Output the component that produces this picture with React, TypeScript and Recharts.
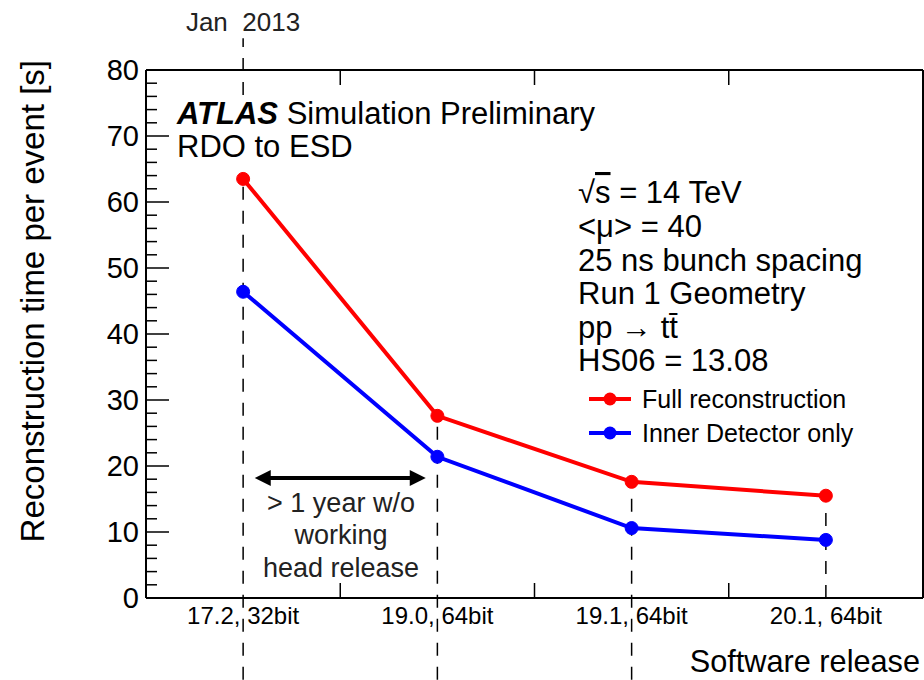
import React from 'react';
import { LineChart, Line, XAxis, YAxis, ReferenceLine } from 'recharts';

const W = 924;
const H = 680;
const FONT = '"Liberation Sans", Arial, Helvetica, sans-serif';

const categories = ['17.2, 32bit', '19.0, 64bit', '19.1, 64bit', '20.1, 64bit'];
const fullReco = [63.5, 27.6, 17.6, 15.5];
const innerDet = [46.4, 21.4, 10.6, 8.8];

const yTicks = [0, 2, 4, 6, 8, 10, 12, 14, 16, 18, 20, 22, 24, 26, 28, 30, 32, 34, 36, 38, 40, 42, 44, 46, 48, 50, 52, 54, 56, 58, 60, 62, 64, 66, 68, 70, 72, 74, 76, 78, 80];
const xBottomTicks = [0.5, 1, 1.5, 2, 2.5, 3, 3.5];
const xTopTicks = [1, 2, 3];

// vertical dashed guide segments: category index, from / to (y units)
const guideCat = [0, 0, 1, 2, 3];
const guideFrom = [76.2, -12.4, -12.4, -12.4, 0];
const guideTo = [84.8, 63.5, 27.6, 17.6, 15.5];

// "> 1 year" arrow span (category units) and height
const arrowX = [0.56, 1.44];
const arrowY = 18.2;

const data = categories.map((c, i) => ({ x: i + 0.5, name: c, full: fullReco[i], inner: innerDet[i] }));

const YTickLeft = (props: any) => {
  const { x, y, payload } = props;
  const v = payload.value;
  const major = v % 10 === 0;
  return (
    <g>
      <line x1={x} y1={y} x2={x + (major ? 23 : 11)} y2={y} stroke="#000" strokeWidth={1.5} />
      {major && (
        <text x={x - 7} y={y} dy="0.36em" textAnchor="end" fontSize={29} fontFamily={FONT} fill="#000">
          {v}
        </text>
      )}
    </g>
  );
};

const YTickRight = (props: any) => {
  const { x, y, payload } = props;
  const v = payload.value;
  const major = v % 10 === 0;
  return <line x1={x} y1={y} x2={x - (major ? 23 : 11)} y2={y} stroke="#000" strokeWidth={1.5} />;
};

const XTickBottom = (props: any) => {
  const { x, y, payload } = props;
  const v = payload.value;
  if (Number.isInteger(v)) {
    return <line x1={x} y1={y} x2={x} y2={y - 15} stroke="#000" strokeWidth={1.5} />;
  }
  return (
    <text x={x} y={y + 26} textAnchor="middle" fontSize={24} fontFamily={FONT} fill="#000">
      {categories[Math.floor(v)]}
    </text>
  );
};

const XTickTop = (props: any) => {
  const { x, y } = props;
  return <line x1={x} y1={y} x2={x} y2={y + 15} stroke="#000" strokeWidth={1.5} />;
};

const ArrowShape = (props: any) => {
  const { x1, y1, x2, y2 } = props;
  const head = 16;
  const hw = 8;
  return (
    <g>
      <line x1={x1 + head - 2} y1={y1} x2={x2 - head + 2} y2={y2} stroke="#000" strokeWidth={4} />
      <polygon points={`${x1},${y1} ${x1 + head},${y1 - hw} ${x1 + head},${y1 + hw}`} fill="#000" />
      <polygon points={`${x2},${y2} ${x2 - head},${y2 - hw} ${x2 - head},${y2 + hw}`} fill="#000" />
    </g>
  );
};

const infoLines = ['<μ> = 40', '25 ns bunch spacing', 'Run 1 Geometry'];

export default function App() {
  return (
    <div style={{ position: 'absolute', left: 0, top: 0, width: W, height: H, background: '#fff' }}>
      <LineChart width={W} height={H} data={data} margin={{ top: 69, right: 0, bottom: 81, left: 145 }}>
        <XAxis
          xAxisId={0}
          type="number"
          dataKey="x"
          domain={[0, 4]}
          ticks={xBottomTicks}
          interval={0}
          height={1}
          tickSize={0}
          tickMargin={0}
          tickLine={false}
          axisLine={{ stroke: '#000', strokeWidth: 2 }}
          tick={<XTickBottom />}
        />
        <XAxis
          xAxisId="top"
          orientation="top"
          type="number"
          dataKey="x"
          domain={[0, 4]}
          ticks={xTopTicks}
          interval={0}
          height={1}
          tickSize={0}
          tickMargin={0}
          tickLine={false}
          axisLine={{ stroke: '#000', strokeWidth: 2 }}
          tick={<XTickTop />}
        />
        <YAxis
          yAxisId={0}
          type="number"
          domain={[0, 80]}
          ticks={yTicks}
          interval={0}
          width={1}
          tickSize={0}
          tickMargin={0}
          tickLine={false}
          axisLine={{ stroke: '#000', strokeWidth: 2 }}
          tick={<YTickLeft />}
        />
        <YAxis
          yAxisId="right"
          orientation="right"
          type="number"
          domain={[0, 80]}
          ticks={yTicks}
          interval={0}
          width={1}
          tickSize={0}
          tickMargin={0}
          tickLine={false}
          axisLine={{ stroke: '#000', strokeWidth: 2 }}
          tick={<YTickRight />}
        />
        {guideCat.map((c, i) => (
          <ReferenceLine
            key={'g' + i}
            xAxisId={0}
            yAxisId={0}
            ifOverflow="visible"
            segment={[
              { x: data[c].x, y: guideFrom[i] },
              { x: data[c].x, y: guideTo[i] },
            ]}
            stroke="#000"
            strokeWidth={1.5}
            strokeDasharray="13 11"
          />
        ))}
        <ReferenceLine
          xAxisId={0}
          yAxisId={0}
          ifOverflow="visible"
          segment={[
            { x: arrowX[0], y: arrowY },
            { x: arrowX[1], y: arrowY },
          ]}
          shape={<ArrowShape />}
        />
        <Line
          xAxisId={0}
          yAxisId={0}
          type="linear"
          dataKey="full"
          stroke="#ff0000"
          strokeWidth={4}
          dot={{ r: 6.5, fill: '#ff0000', stroke: '#ff0000', strokeWidth: 1 }}
          isAnimationActive={false}
        />
        <Line
          xAxisId={0}
          yAxisId={0}
          type="linear"
          dataKey="inner"
          stroke="#0000ff"
          strokeWidth={4}
          dot={{ r: 6.5, fill: '#0000ff', stroke: '#0000ff', strokeWidth: 1 }}
          isAnimationActive={false}
        />
      </LineChart>
      <svg
        width={W}
        height={H}
        style={{ position: 'absolute', left: 0, top: 0, pointerEvents: 'none' }}
        fontFamily={FONT}
        fill="#000"
      >
        <text x={243} y={31} textAnchor="middle" fontSize={26} fill="#222" style={{ whiteSpace: 'pre' }}>
          {'Jan  2013'}
        </text>
        <text x={177} y={124} fontSize={31}>
          <tspan fontWeight="bold" fontStyle="italic">ATLAS</tspan>
          <tspan> Simulation Preliminary</tspan>
        </text>
        <text x={177} y={157} fontSize={31}>RDO to ESD</text>
        <text x={578} y={203} fontSize={31}>
          <tspan>√</tspan>
          <tspan style={{ textDecoration: 'overline' }}>s</tspan>
          <tspan> = 14 TeV</tspan>
        </text>
        {infoLines.map((t, i) => (
          <text key={t} x={578} y={237 + i * 33.5} fontSize={31}>
            {t}
          </text>
        ))}
        <text x={578} y={338} fontSize={31}>pp → tt̄</text>
        <text x={578} y={371} fontSize={31}>HS06 = 13.08</text>

        <line x1={589} y1={399} x2={631} y2={399} stroke="#ff0000" strokeWidth={4} />
        <circle cx={610} cy={399} r={6.5} fill="#ff0000" />
        <text x={642} y={408} fontSize={25}>Full reconstruction</text>
        <line x1={589} y1={433} x2={631} y2={433} stroke="#0000ff" strokeWidth={4} />
        <circle cx={610} cy={433} r={6.5} fill="#0000ff" />
        <text x={642} y={442} fontSize={25}>Inner Detector only</text>

        <text x={341} y={512} textAnchor="middle" fontSize={27} fill="#222">&gt; 1 year w/o</text>
        <text x={341} y={544} textAnchor="middle" fontSize={27} fill="#222">working</text>
        <text x={341} y={577} textAnchor="middle" fontSize={27} fill="#222">head release</text>

        <text x={920} y={672} textAnchor="end" fontSize={30.7}>Software release</text>
        <text x={44} y={60} textAnchor="end" fontSize={33} transform="rotate(-90 44 60)">
          Reconstruction time per event [s]
        </text>
      </svg>
    </div>
  );
}
